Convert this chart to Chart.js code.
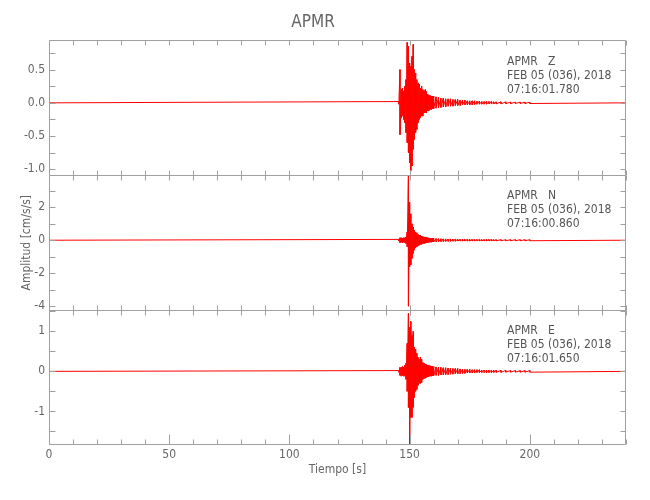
<!DOCTYPE html>
<html>
<head>
<meta charset="utf-8">
<script src="https://cdn.jsdelivr.net/npm/chart.js@4.4.1/dist/chart.umd.min.js"></script>
<style>
  html, body { margin: 0; padding: 0; background: #fff; }
  #wrap { width: 650px; height: 500px; }
</style>
</head>
<body>
<div id="wrap"><canvas id="seis" width="650" height="500"></canvas></div>
<script>
const FONT = "'DejaVu Sans Condensed', 'Liberation Sans Narrow', 'DejaVu Sans', sans-serif";
const TEXT = '#666';
const FRAME = '#a0a0a0';

const station = 'APMR';
const components = ['Z', 'N', 'E'];
const dateLabel = 'FEB 05 (036), 2018';
const startTimes = ['07:16:01.780', '07:16:00.860', '07:16:01.650'];

// axis ranges per panel (cm/s/s)
const yMin = [-1.09, -4.24, -1.84];
const yMax = [0.94, 3.94, 1.53];
const minorStep = [0.25, 1, 0.5];
const majorStep = [0.5, 2, 1];

const burstT = [
  145.5, 146, 146.5, 147, 147.5, 148, 148.5, 149, 149.5, 150,
  150.5, 151, 151.5, 152, 152.5, 153, 153.5, 154, 154.5, 155,
  155.5, 156, 156.5, 157, 157.5, 158, 158.5, 159, 159.5, 160,
  161, 162, 163, 164, 165, 166, 167, 168, 169, 170,
  171, 172, 173, 174, 175, 176, 177, 178, 179, 180,
  181, 182, 183, 184, 185, 186,
  188, 190, 192, 194, 196, 198, 200
];

// Z component, upper / lower swings
const zUp = [
  0.02, 0.50, 0.20, 0.22, 0.18, 0.25, 0.35, 0.91, 0.85, 0.60,
  0.55, 0.70, 0.88, 0.50, 0.45, 0.35, 0.30, 0.28, 0.22, 0.25,
  0.20, 0.18, 0.20, 0.17, 0.13, 0.12, 0.11, 0.10, 0.10, 0.10,
  0.09, 0.08, 0.07, 0.07, 0.06, 0.06, 0.06, 0.05, 0.05, 0.05,
  0.04, 0.04, 0.04, 0.03, 0.03, 0.03, 0.03, 0.025, 0.025, 0.02,
  0.02, 0.02, 0.02, 0.02, 0.015, 0.015,
  0.015, 0.015, 0.012, 0.012, 0.01, 0.01, 0.01
];
const zDn = [
  -0.02, -0.48, -0.23, -0.20, -0.25, -0.30, -0.45, -0.60, -0.75, -0.90,
  -1.02, -0.95, -0.70, -0.55, -0.45, -0.40, -0.30, -0.25, -0.22, -0.20,
  -0.20, -0.15, -0.15, -0.15, -0.12, -0.12, -0.10, -0.10, -0.09, -0.09,
  -0.08, -0.07, -0.07, -0.06, -0.06, -0.05, -0.05, -0.05, -0.04, -0.04,
  -0.04, -0.03, -0.03, -0.03, -0.03, -0.03, -0.025, -0.02, -0.02, -0.02,
  -0.02, -0.02, -0.015, -0.015, -0.015, -0.015,
  -0.015, -0.012, -0.012, -0.01, -0.01, -0.01, -0.01
];

// N component
const nUp = [
  0.05, 0.15, 0.15, 0.12, 0.15, 0.15, 0.20, 0.50, 3.90, 2.30,
  1.60, 1.00, 0.80, 0.60, 0.50, 0.45, 0.35, 0.30, 0.30, 0.25,
  0.22, 0.20, 0.20, 0.17, 0.15, 0.14, 0.13, 0.12, 0.12, 0.11,
  0.10, 0.09, 0.09, 0.08, 0.08, 0.07, 0.07, 0.06, 0.06, 0.06,
  0.05, 0.05, 0.05, 0.05, 0.05, 0.05, 0.04, 0.04, 0.04, 0.04,
  0.04, 0.04, 0.04, 0.04, 0.035, 0.035,
  0.035, 0.03, 0.03, 0.03, 0.03, 0.03, 0.03
];
const nDn = [
  -0.05, -0.15, -0.12, -0.15, -0.12, -0.15, -0.20, -0.40, -4.00, -1.60,
  -1.50, -1.10, -0.80, -0.60, -0.45, -0.40, -0.35, -0.30, -0.25, -0.25,
  -0.20, -0.20, -0.18, -0.15, -0.15, -0.13, -0.12, -0.12, -0.10, -0.10,
  -0.09, -0.09, -0.08, -0.08, -0.07, -0.07, -0.06, -0.06, -0.06, -0.05,
  -0.05, -0.05, -0.05, -0.05, -0.05, -0.04, -0.04, -0.04, -0.04, -0.04,
  -0.04, -0.04, -0.035, -0.035, -0.035, -0.035,
  -0.03, -0.03, -0.03, -0.03, -0.03, -0.03, -0.03
];

// E component
const eUp = [
  0.02, 0.10, 0.10, 0.12, 0.10, 0.15, 0.20, 0.70, 1.45, 1.10,
  1.25, 0.90, 1.00, 0.60, 0.55, 0.45, 0.35, 0.30, 0.35, 0.30,
  0.22, 0.20, 0.18, 0.17, 0.15, 0.15, 0.14, 0.13, 0.12, 0.12,
  0.11, 0.10, 0.10, 0.09, 0.09, 0.08, 0.08, 0.07, 0.07, 0.07,
  0.06, 0.05, 0.05, 0.05, 0.05, 0.04, 0.04, 0.04, 0.04, 0.03,
  0.03, 0.03, 0.03, 0.03, 0.03, 0.03,
  0.025, 0.025, 0.02, 0.02, 0.02, 0.02, 0.02
];
const eDn = [
  -0.02, -0.10, -0.12, -0.10, -0.12, -0.12, -0.20, -0.50, -0.90, -1.82,
  -1.15, -1.15, -0.90, -0.65, -0.50, -0.45, -0.35, -0.30, -0.30, -0.28,
  -0.20, -0.18, -0.17, -0.15, -0.14, -0.13, -0.12, -0.12, -0.11, -0.11,
  -0.10, -0.10, -0.09, -0.09, -0.08, -0.08, -0.07, -0.07, -0.06, -0.06,
  -0.06, -0.05, -0.05, -0.04, -0.04, -0.04, -0.04, -0.03, -0.03, -0.03,
  -0.03, -0.03, -0.03, -0.03, -0.03, -0.025,
  -0.025, -0.02, -0.02, -0.02, -0.02, -0.02, -0.02
];

const traces = [[zUp, zDn], [nUp, nDn], [eUp, eDn]];

// quiet record before the burst, swing up/down at each read time, quiet tail
function buildTrace(up, dn) {
  const pts = [{ x: 0, y: 0 }];
  burstT.forEach((t, i) => {
    pts.push({ x: t, y: up[i] });
    pts.push({ x: t, y: dn[i] });
  });
  pts.push({ x: 240, y: 0 });
  return pts;
}

const isMajor = (v, step) => Math.abs(v / step - Math.round(v / step)) < 1e-6;

function yScale(i) {
  const sc = {
    type: 'linear', position: 'left', stack: 'traces', stackWeight: 1, weight: 3 - i,
    min: yMin[i], max: yMax[i],
    grid: { display: false, drawTicks: false },
    border: { display: false },
    ticks: {
      stepSize: minorStep[i], includeBounds: false, autoSkip: false, padding: 4,
      color: TEXT, font: { family: FONT, size: 12 },
      callback: v => isMajor(v, majorStep[i]) ? (i === 0 ? v.toFixed(1) : String(Math.round(v))) : ''
    },
    afterFit: s => { s.width = 49; }
  };
  if (i === 1) {
    sc.title = { display: true, text: 'Amplitud [cm/s/s]', color: TEXT,
      font: { family: FONT, size: 12 }, padding: { top: 20, bottom: 0 } };
  }
  return sc;
}

const framePlugin = {
  id: 'frames',
  afterDatasetsDraw(chart) {
    const { ctx, chartArea: a, scales } = chart;
    const xs = scales.x;
    ctx.save();
    ctx.strokeStyle = FRAME;
    ctx.lineWidth = 1;
    ['y0', 'y1', 'y2'].forEach((id, i) => {
      const s = scales[id];
      // panels share their dividing line
      const top = Math.round(s.top) + 0.5;
      const bot = i === 2 ? Math.round(s.bottom) - 0.5 : Math.round(s.bottom) + 0.5;
      const l = Math.round(a.left) + 0.5, r = Math.round(a.right) - 0.5;
      ctx.beginPath();
      ctx.rect(l, top, r - l, bot - top);
      s.ticks.forEach(t => {
        const y = Math.round(s.getPixelForValue(t.value)) + 0.5;
        ctx.moveTo(l, y); ctx.lineTo(l + 6, y);
        ctx.moveTo(r, y); ctx.lineTo(r - 5, y);
      });
      xs.ticks.forEach(t => {
        const x = Math.round(xs.getPixelForValue(t.value)) + 0.5;
        const len = (i === 2 && t.value % 50 === 0) ? 10 : 5;
        ctx.moveTo(x, top); ctx.lineTo(x, top + 5);
        ctx.moveTo(x, bot); ctx.lineTo(x, bot - len);
      });
      ctx.stroke();

      // station header in the upper right of each panel
      ctx.fillStyle = '#555';
      ctx.font = '12px ' + FONT;
      ctx.textAlign = 'left';
      ctx.textBaseline = 'middle';
      const tx = xs.getPixelForValue(190.5);
      ctx.fillText(station + '   ' + components[i], tx, s.top + 21);
      ctx.fillText(dateLabel, tx, s.top + 35);
      ctx.fillText(startTimes[i], tx, s.top + 49);
    });
    ctx.restore();
  }
};

const scales = {
  x: {
    type: 'linear', position: 'bottom', min: 0, max: 240,
    grid: { display: false, drawTicks: false },
    border: { display: false },
    ticks: {
      stepSize: 10, autoSkip: false, maxRotation: 0, padding: 3,
      color: TEXT, font: { family: FONT, size: 12 },
      callback: v => v % 50 === 0 ? String(v) : ''
    },
    title: { display: true, text: 'Tiempo [s]', color: TEXT,
      font: { family: FONT, size: 12 }, padding: { top: 0, bottom: 23 } },
    afterFit: s => { s.height = 55; }
  }
};
traces.forEach((_, i) => { scales['y' + i] = yScale(i); });

new Chart(document.getElementById('seis'), {
  type: 'line',
  data: {
    datasets: traces.map(([up, dn], i) => ({
      label: components[i],
      data: buildTrace(up, dn),
      yAxisID: 'y' + i,
      borderColor: '#ff0000',
      borderWidth: 1,
      pointRadius: 0,
      tension: 0,
      fill: false
    }))
  },
  options: {
    responsive: false,
    animation: false,
    layout: { padding: { left: 0, right: 24, top: 0, bottom: 0 } },
    plugins: {
      legend: { display: false },
      tooltip: { enabled: false },
      title: { display: true, text: station, color: TEXT,
        font: { family: FONT, size: 17, weight: 'normal' }, padding: { top: 12, bottom: 8 } }
    },
    scales
  },
  plugins: [framePlugin]
});
</script>
</body>
</html>
